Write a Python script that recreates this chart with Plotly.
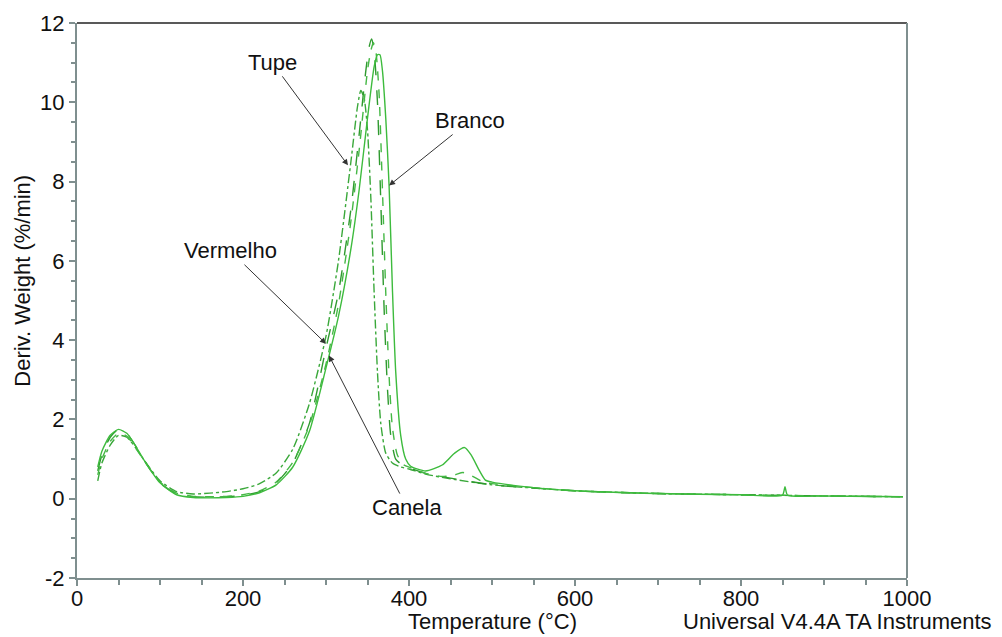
import plotly.graph_objects as go

# DTG curves (derivative of weight loss) for four samples
tupe_t = [25, 30, 40, 50, 60, 70, 80, 100, 120, 140, 160, 180, 200, 220, 240, 260, 280, 300, 315, 330, 338, 342,
          346, 350, 354, 358, 362, 366, 372, 380, 390, 400, 420, 450, 500, 550, 600, 700, 800, 900, 995]
tupe_v = [0.45, 0.9, 1.35, 1.6, 1.55, 1.3, 1.0, 0.45, 0.18, 0.12, 0.14, 0.18, 0.25, 0.38, 0.65, 1.25, 2.4, 4.1, 6.0,
          8.5, 9.9, 10.3, 10.1, 9.3, 7.6, 5.2, 3.2, 1.9, 1.15, 0.9, 0.8, 0.75, 0.62, 0.5, 0.35, 0.27, 0.2, 0.13, 0.1,
          0.07, 0.05]

vermelho_t = [25, 30, 40, 50, 60, 70, 80, 100, 120, 140, 160, 180, 200, 220, 240, 260, 280, 300, 315, 330, 340, 348,
              352, 355, 358, 362, 366, 370, 374, 378, 384, 392, 400, 420, 450, 500, 550, 600, 700, 800, 900, 995]
vermelho_v = [0.7, 1.1, 1.55, 1.75, 1.65, 1.35, 1.0, 0.4, 0.12, 0.05, 0.04, 0.05, 0.08, 0.18, 0.4, 0.9, 1.9, 3.8, 5.2,
              7.3, 9.2, 10.8, 11.4, 11.6, 11.3, 10.0, 7.5, 4.8, 2.8, 1.6, 1.0, 0.85, 0.78, 0.64, 0.52, 0.35, 0.27, 0.2,
              0.13, 0.1, 0.07, 0.05]

canela_t = [25, 30, 40, 50, 60, 70, 80, 100, 120, 140, 160, 180, 200, 220, 240, 260, 280, 300, 315, 330, 340, 350,
            354, 357, 360, 364, 368, 372, 376, 380, 386, 394, 402, 420, 440, 455, 465, 475, 490, 500, 550, 600, 700,
            800, 900, 995]
canela_v = [0.6, 1.0, 1.45, 1.65, 1.58, 1.3, 0.98, 0.42, 0.14, 0.06, 0.05, 0.06, 0.1, 0.2, 0.42, 0.92, 1.85, 3.4, 4.9,
            7.0, 8.8, 10.8, 11.3, 11.5, 11.3, 10.2, 7.8, 5.2, 3.1, 1.8, 1.1, 0.85, 0.78, 0.64, 0.56, 0.6, 0.66, 0.58,
            0.42, 0.38, 0.28, 0.2, 0.13, 0.1, 0.07, 0.05]

branco_t = [25, 30, 40, 50, 60, 70, 80, 100, 120, 140, 160, 180, 200, 220, 240, 260, 280, 300, 315, 330, 340, 350,
            358, 362, 365, 368, 372, 376, 380, 384, 390, 396, 402, 420, 440, 455, 467, 475, 485, 492, 500, 550, 600,
            700, 800, 850, 853, 856, 900, 995]
branco_v = [0.8, 1.2, 1.6, 1.75, 1.65, 1.35, 1.0, 0.4, 0.1, 0.03, 0.02, 0.03, 0.06, 0.15, 0.35, 0.8, 1.7, 3.3, 4.6,
            6.3, 7.8, 9.6, 10.9, 11.2, 11.2, 10.8, 9.6, 7.9, 5.3, 3.2, 1.6, 1.0, 0.82, 0.7, 0.85, 1.15, 1.29, 1.1,
            0.7, 0.47, 0.42, 0.28, 0.2, 0.13, 0.1, 0.09, 0.3, 0.09, 0.07, 0.05]

x_ticks = [0, 200, 400, 600, 800, 1000]
y_ticks = [-2, 0, 2, 4, 6, 8, 10, 12]
y_tick_text = ["-2", "0", "2", "4", "6", "8", "10", "12"]

series = [
    ("Tupe", tupe_t, tupe_v, "dashdot", "#3aa83a"),
    ("Vermelho", vermelho_t, vermelho_v, "longdash", "#2f9a2f"),
    ("Canela", canela_t, canela_v, "dash", "#45b845"),
    ("Branco", branco_t, branco_v, "solid", "#3dbb3d"),
]

fig = go.Figure()
for name, t, v, dash, color in series:
    fig.add_trace(go.Scatter(
        x=t, y=v, mode="lines", name=name,
        line=dict(color=color, width=1.4, dash=dash, shape="spline", smoothing=0.6),
        showlegend=False,
    ))

axis_color = "#7f8f8f"
font_main = dict(family="Liberation Sans, Arial, sans-serif", size=22, color="#111111")

fig.update_xaxes(
    range=[0, 1000], tickvals=x_ticks,
    ticks="outside", ticklen=6, tickcolor=axis_color, tickwidth=1.5,
    showline=True, linecolor=axis_color, linewidth=2,
    showgrid=False, zeroline=False, tickfont=font_main, ticklabelstandoff=-6,
    minor=dict(dtick=50, ticks="outside", ticklen=5, tickcolor=axis_color, tickwidth=1.5, showgrid=False),
)
fig.update_yaxes(
    range=[-2, 12], tickvals=y_ticks, ticktext=y_tick_text,
    ticks="outside", ticklen=6, tickcolor=axis_color, tickwidth=1.5,
    showline=True, linecolor=axis_color, linewidth=2,
    showgrid=False, zeroline=False, tickfont=font_main,
    minor=dict(dtick=0.5, ticks="outside", ticklen=4, tickcolor=axis_color, tickwidth=1.5, showgrid=False),
)

# frame: dark top edge, grey right edge
fig.add_shape(type="line", xref="paper", yref="paper", x0=0, x1=1, y0=1, y1=1,
              line=dict(color="#222222", width=1.5))
fig.add_shape(type="line", xref="paper", yref="paper", x0=1, x1=1, y0=0, y1=1,
              line=dict(color=axis_color, width=2))

# sample labels with pointer arrows
labels = [
    ("Tupe", 326.5, 8.41, -76, -103),
    ("Branco", 376, 7.9, 81, -65),
    ("Vermelho", 300, 3.91, -96, -93),
    ("Canela", 303.6, 3.61, 78, 152),
]
for text, x, y, ax, ay in labels:
    fig.add_annotation(x=x, y=y, ax=ax, ay=ay, text=text, showarrow=True,
                       arrowhead=2, arrowsize=1.2, arrowwidth=1, arrowcolor="#333333",
                       font=font_main, standoff=0)

fig.add_annotation(xref="paper", yref="paper", x=0.5, y=-0.079, yanchor="middle",
                   text="Temperature (°C)", showarrow=False, font=font_main)
fig.add_annotation(xref="paper", yref="paper", x=-0.0667, y=0.535, xanchor="center", yanchor="middle",
                   text="Deriv. Weight (%/min)", textangle=-90, showarrow=False, font=font_main)
fig.add_annotation(xref="paper", yref="paper", x=1.1048, y=-0.079, xanchor="right", yanchor="middle",
                   text="Universal V4.4A TA Instruments", showarrow=False, font=font_main)

fig.update_layout(
    width=1002, height=637,
    margin=dict(l=77, r=95, t=23, b=59),
    paper_bgcolor="white", plot_bgcolor="white",
)

fig.write_html("out.html")
